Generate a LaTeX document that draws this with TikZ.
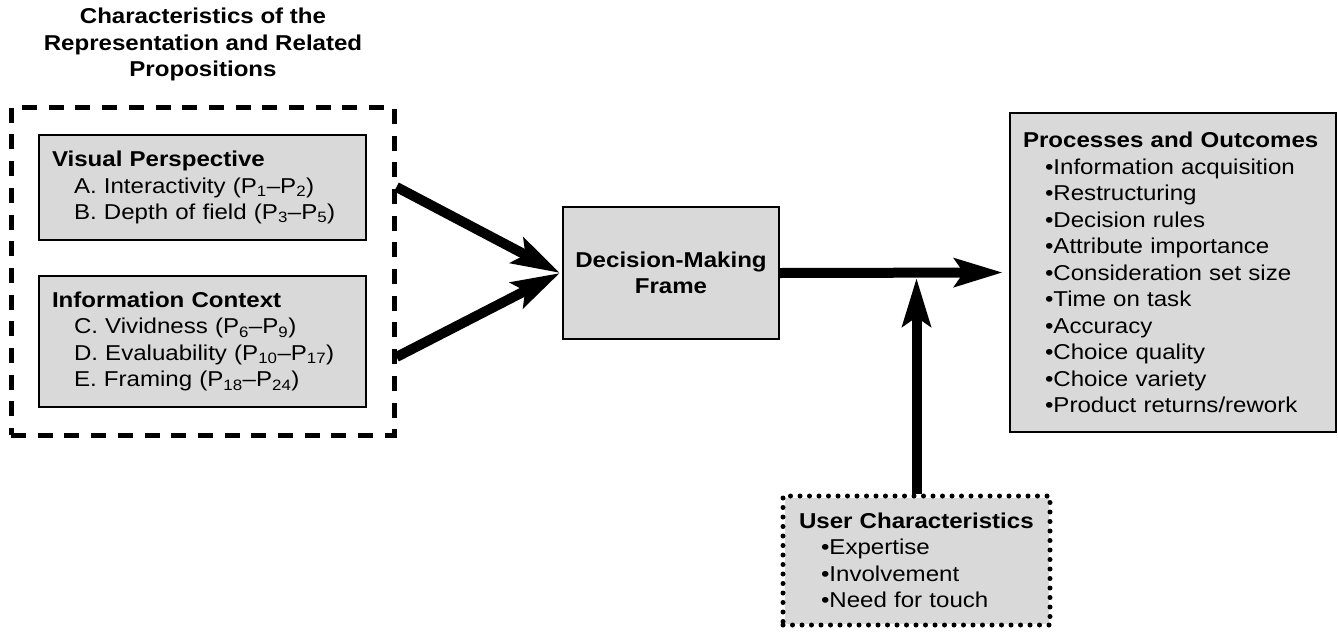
\documentclass[tikz,border=0pt]{standalone}
\usepackage{fontspec}
\setmainfont{Liberation Sans}[FakeStretch=1.12]
\usepackage{tikz}
\usetikzlibrary{positioning,arrows.meta,fit,calc,backgrounds}
\definecolor{boxgray}{gray}{0.85}
\newcommand{\indline}{\hspace*{22pt}}

\begin{document}
\begin{tikzpicture}[
  x=1pt, y=-1pt,
  font=\fontsize{21.5}{26.5}\selectfont,
  propbox/.style={draw=black, fill=boxgray, line width=2pt, align=left, inner ysep=0pt},
  dashframe/.style={draw=black, line width=5pt, dash pattern=on 15pt off 11.7pt},
  dotframe/.style={draw=black, line width=5pt, line cap=round, dash pattern=on 0pt off 9.5pt, align=left, inner ysep=0pt},
  flowmap/.style={-{Stealth[length=48pt,width=28pt,inset=9pt]}, draw=black, line width=10pt}
]
  \useasboundingbox (0,0) rectangle (1338,632);

  % title over the left group
  \node[font=\fontsize{21.5}{26.5}\selectfont\bfseries, align=center, anchor=north, inner sep=0pt] (title) at (203,8)
    {Characteristics of the\\Representation and Related\\Propositions};

  \node[propbox, minimum width=327pt, minimum height=105pt, text width=301pt, inner xsep=13pt] (vis) at (202.5,187.5)
    {\textbf{Visual Perspective}\\
     \indline A. Interactivity (P\textsubscript{1}--P\textsubscript{2})\\
     \indline B. Depth of field (P\textsubscript{3}--P\textsubscript{5})};
  \node[propbox, minimum width=327pt, minimum height=131pt, text width=301pt, inner xsep=13pt] (ctx) at (202.5,341.5)
    {\textbf{Information Context}\\
     \indline C. Vividness (P\textsubscript{6}--P\textsubscript{9})\\
     \indline D. Evaluability (P\textsubscript{10}--P\textsubscript{17})\\
     \indline E. Framing (P\textsubscript{18}--P\textsubscript{24})};
  \node[dashframe, inner sep=27pt, fit=(vis)(ctx)] (chars) {};

  \node[propbox, align=center, font=\fontsize{21.5}{26.5}\selectfont\bfseries, minimum width=216pt, minimum height=132pt] (dm) at (671,273)
    {Decision-Making\\Frame};

  \node[propbox, line width=2.5pt, minimum width=326pt, minimum height=319pt, text width=300pt, inner xsep=13pt] (po) at (1173,272.5)
    {\textbf{Processes and Outcomes}\\
     \indline •Information acquisition\\
     \indline •Restructuring\\
     \indline •Decision rules\\
     \indline •Attribute importance\\
     \indline •Consideration set size\\
     \indline •Time on task\\
     \indline •Accuracy\\
     \indline •Choice quality\\
     \indline •Choice variety\\
     \indline •Product returns/rework};

  \node[dotframe, minimum width=267pt, minimum height=129pt, text width=235pt, inner xsep=16pt] (user) at (916.5,560.5)
    {\textbf{User Characteristics}\\
     \indline •Expertise\\
     \indline •Involvement\\
     \indline •Need for touch};
  \begin{scope}[on background layer]
    \fill[boxgray] ([shift={(4pt,-4pt)}]user.north west) rectangle ([shift={(-4pt,4pt)}]user.south east);
  \end{scope}

  % connectors
  \draw[flowmap] ([yshift=84pt]chars.east) -- ([xshift=-2pt]dm.west);
  \draw[flowmap] ([yshift=-86pt]chars.east) -- ([xshift=-2pt]dm.west);
  \draw[flowmap] (dm.east) -- ([xshift=-6pt]po.west);
  \coordinate (meet) at ([yshift=-5pt]dm.east -| user.north);
  \draw[flowmap] (user.north) -- (meet);
\end{tikzpicture}
\end{document}
